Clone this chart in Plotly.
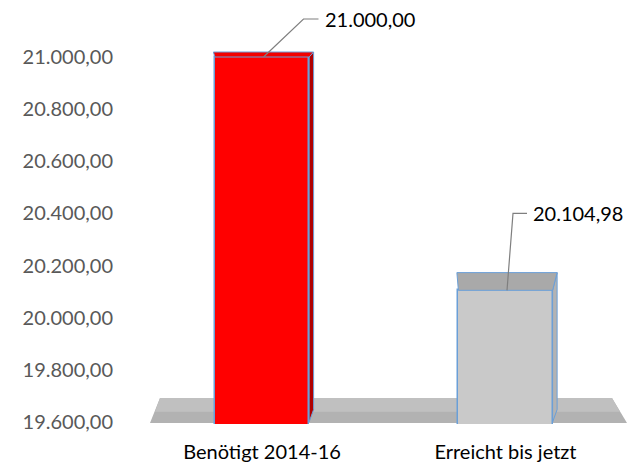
import plotly.graph_objects as go

# ---------------- data ----------------
categories = ["Benötigt 2014-16", "Erreicht bis jetzt"]
values = [21000.00, 20104.98]
tick_values = [19600, 19800, 20000, 20200, 20400, 20600, 20800, 21000]

# ---------------- style ----------------
W, H = 642, 464
L, R, T, B = 122, 634, 4, 424            # plot area in pixels
FONT = "Lato, 'Open Sans', sans-serif"
front_colors = ["#ff0000", "#c9c9c9"]
top_colors = ["#f20000", "#a9a9a9"]
side_colors = ["#b00000", "#b3b3b3"]
edge_color = "#6a9fd8"
bar_width = 0.387
pitch_px = 243.5           # pixels between category centres
first_center_px = 262.0
top_tick_px, bottom_tick_px = 57.0, 422.0
persp_k, eye_px = 0.0546, -34.5   # perspective depth model
side_shift_px = 4.5
label_offsets = [(40, -38, 15), (6, -77, 14)]   # leader: dx, dy, horizontal

# axis ranges from pixel anchors
ymin, ymax = min(tick_values), max(tick_values)
spx = (bottom_tick_px - top_tick_px) / (ymax - ymin)
y1 = ymax + (top_tick_px - T) / spx
y0 = ymin - (B - bottom_tick_px) / spx
x0 = -(first_center_px - L) / pitch_px
x1 = x0 + (R - L) / pitch_px

dxu = (x1 - x0) / (R - L)
dyu = (y1 - y0) / (B - T)


def ypix(v):
    return T + (y1 - v) / dyu


def depth(v):
    return persp_k * (ypix(v) - eye_px)


fig = go.Figure()
xs = list(range(len(categories)))
fig.add_trace(go.Bar(
    x=xs, y=values, width=bar_width,
    marker=dict(color=front_colors, line=dict(color=edge_color, width=1.5)),
    hoverinfo="skip", showlegend=False,
))

shapes = []
# floor
base_d = depth(ymin)
fl_l, fl_r = 150, 627
fb = ymin - 1.0 / spx
ft = fb + base_d * dyu
shapes.append(dict(type="path", layer="below", xref="x", yref="y",
                   path=f"M{x0+(fl_l-L)*dxu},{fb} L{x0+(fl_r-L)*dxu},{fb} "
                        f"L{x0+(fl_r-15-L)*dxu},{ft} L{x0+(fl_l+10-L)*dxu},{ft} Z",
                   fillcolor="#b2b2b2", line=dict(width=0)))
shapes.append(dict(type="path", layer="below", xref="x", yref="y",
                   path=f"M{x0+(fl_l+5-L)*dxu},{fb+0.45*base_d*dyu} L{x0+(fl_r-7-L)*dxu},{fb+0.45*base_d*dyu} "
                        f"L{x0+(fl_r-15-L)*dxu},{ft} L{x0+(fl_l+10-L)*dxu},{ft} Z",
                   fillcolor="#c0c0c0", line=dict(width=0)))

annotations = []
for i, v in enumerate(values):
    xl, xr = i - bar_width / 2, i + bar_width / 2
    d = depth(v) * dyu
    s = side_shift_px * dxu
    # side face
    shapes.append(dict(type="path", xref="x", yref="y",
                       path=f"M{xr},{v} L{xr+s},{v+d} L{xr+s},{ymin+base_d*dyu*0.5} L{xr},{ymin} Z",
                       fillcolor=side_colors[i], line=dict(color=edge_color, width=1)))
    # top face
    shapes.append(dict(type="path", xref="x", yref="y",
                       path=f"M{xl},{v} L{xr},{v} L{xr+s},{v+d} L{xl-1.5*dxu},{v+d} Z",
                       fillcolor=top_colors[i], line=dict(color=edge_color, width=1)))
    # leader line and label
    ox, oy, hz = label_offsets[i]
    sx = i + 1.5 * dxu
    mx, my = sx + ox * dxu, v - oy * dyu
    ex = mx + hz * dxu
    shapes.append(dict(type="path", xref="x", yref="y",
                       path=f"M{sx},{v} L{mx},{my} L{ex},{my}",
                       line=dict(color="#7f7f7f", width=1.2)))
    txt = f"{v:,.2f}".replace(",", "X").replace(".", ",").replace("X", ".")
    annotations.append(dict(x=ex + 4 * dxu, y=my, xref="x", yref="y", text=txt,
                            showarrow=False, xanchor="left", yanchor="middle",
                            font=dict(family=FONT, size=20, color="#000000")))

fig.update_layout(
    width=W, height=H,
    margin=dict(l=L, r=W - R, t=T, b=H - B, pad=0, autoexpand=False),
    paper_bgcolor="white", plot_bgcolor="white",
    separators=",.",
    shapes=shapes, annotations=annotations,
    bargap=0,
    xaxis=dict(range=[x0, x1], tickvals=xs, ticktext=categories, automargin=False,
               showgrid=False, zeroline=False, showline=False, fixedrange=True,
               ticks="outside", ticklen=10, tickcolor="rgba(0,0,0,0)",
               tickfont=dict(family=FONT, size=20, color="#000000")),
    yaxis=dict(range=[y0, y1], tickvals=tick_values, tickformat=",.2f", automargin=False,
               showgrid=False, zeroline=False, showline=False, fixedrange=True,
               ticks="outside", ticklen=4, tickcolor="rgba(0,0,0,0)",
               tickfont=dict(family=FONT, size=20, color="#595959")),
)

fig.write_html("out.html", config={"displayModeBar": False},
               post_script="document.body.style.margin='0';document.body.style.overflow='hidden';")
